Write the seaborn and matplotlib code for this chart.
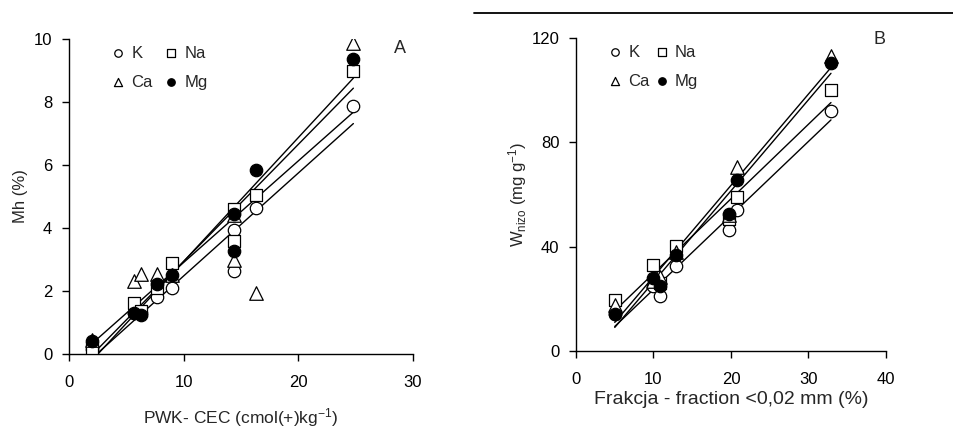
import numpy as np
import pandas as pd
import matplotlib
matplotlib.use('Agg')
import matplotlib.pyplot as plt
import seaborn as sns

sns.set_style('ticks')
plt.rcParams['font.family'] = ['Liberation Sans', 'DejaVu Sans']
plt.rcParams['mathtext.fontset'] = 'custom'
plt.rcParams['mathtext.rm'] = 'Liberation Sans'
plt.rcParams['mathtext.it'] = 'Liberation Sans:italic'

# panel A: CEC vs Mh
cec = [2.0, 5.7, 6.3, 7.7, 9.0, 14.4, 14.4, 16.3, 24.8]
mh_k = [0.15, 1.3, 1.3, 1.8, 2.1, 3.95, 2.65, 4.65, 7.87]
mh_na = [0.2, 1.63, 1.35, 2.1, 2.88, 4.6, 3.58, 5.06, 9.0]
mh_ca = [0.45, 2.32, 2.54, 2.54, 2.5, 4.4, 3.0, 1.95, 9.88]
mh_mg = [0.4, 1.3, 1.25, 2.23, 2.52, 4.43, 3.28, 5.83, 9.38]

# panel B: fraction <0.02 mm vs W_nizo
frac = [5.0, 9.9, 10.8, 12.9, 19.8, 20.8, 32.9]
w_k = [14.0, 24.8, 21.2, 32.4, 46.3, 54.0, 92.0]
w_na = [19.7, 33.0, 26.0, 40.4, 50.5, 59.0, 100.0]
w_ca = [17.8, 27.0, 28.5, 38.0, 52.0, 70.5, 113.0]
w_mg = [14.0, 27.9, 25.1, 36.8, 52.5, 65.7, 110.5]

ions = ['K', 'Na', 'Ca', 'Mg']
markers = {'K': 'o', 'Na': 's', 'Ca': '^', 'Mg': 'o'}
faces = {'K': 'white', 'Na': 'white', 'Ca': 'white', 'Mg': 'black'}

df_a = pd.DataFrame({'x': cec * 4, 'y': mh_k + mh_na + mh_ca + mh_mg,
                     'ion': sum([[i] * len(cec) for i in ions], [])})
df_b = pd.DataFrame({'x': frac * 4, 'y': w_k + w_na + w_ca + w_mg,
                     'ion': sum([[i] * len(frac) for i in ions], [])})

fig = plt.figure(figsize=(9.54, 4.45), dpi=100)
ax_a = fig.add_axes([69 / 954, 91 / 445, 344 / 954, 315 / 445])
ax_b = fig.add_axes([576 / 954, 94 / 445, 310 / 954, 313 / 445])

fs = 12


def draw(ax, df, colsp):
    for ion in ions:
        sub = df[df['ion'] == ion]
        sns.regplot(x='x', y='y', data=sub, ax=ax, scatter=False, ci=None,
                    color='black', line_kws={'lw': 1.0})
    for ion in ions:
        sub = df[df['ion'] == ion]
        sns.scatterplot(x='x', y='y', data=sub, ax=ax, marker=markers[ion],
                        color=faces[ion], edgecolor='black', linewidth=0.9,
                        s=80 if ion != 'Ca' else 95, label=ion, zorder=3)
    h, l = ax.get_legend_handles_labels()
    order = [l.index(n) for n in ['K', 'Ca', 'Na', 'Mg']]
    leg = ax.legend([h[i] for i in order], [l[i] for i in order], ncol=2,
                    frameon=False, markerscale=0.6, handlelength=1.0,
                    handletextpad=0.3, columnspacing=colsp, labelspacing=0.85,
                    fontsize=fs, loc='upper left', borderaxespad=0)
    for spine in ['top', 'right']:
        ax.spines[spine].set_visible(False)
    for spine in ['left', 'bottom']:
        ax.spines[spine].set_linewidth(1.0)
        ax.spines[spine].set_color('black')
    ax.tick_params(direction='out', length=5, width=1.0, labelsize=fs,
                   colors='black')
    ax.tick_params(axis='x', pad=10)
    ax.tick_params(axis='y', pad=7)
    return leg


leg_a = draw(ax_a, df_a, 0.6)
leg_a.set_bbox_to_anchor((0.099, 1.0))
ax_a.set_xlim(0, 30)
ax_a.set_ylim(0, 10)
ax_a.set_xticks([0, 10, 20, 30])
ax_a.set_yticks([0, 2, 4, 6, 8, 10])
ax_a.set_xlabel('PWK- CEC (cmol(+)kg$^{-1}$)', fontsize=12.5, labelpad=12)
ax_a.set_ylabel('Mh (%)', fontsize=fs, labelpad=4)
ax_a.text(0.962, 0.971, 'A', transform=ax_a.transAxes, fontsize=13,
          ha='center', va='center')

leg_b = draw(ax_b, df_b, 0.2)
leg_b.set_bbox_to_anchor((0.078, 1.0))
ax_b.set_xlim(0, 40)
ax_b.set_ylim(0, 120)
ax_b.set_xticks([0, 10, 20, 30, 40])
ax_b.set_yticks([0, 40, 80, 120])
ax_b.set_xlabel('Frakcja - fraction <0,02 mm (%)', fontsize=14, labelpad=3)
ax_b.set_ylabel('W$_{\\mathrm{nizo}}$ (mg g$^{-1}$)', fontsize=fs, labelpad=2)
ax_b.text(0.98, 0.994, 'B', transform=ax_b.transAxes, fontsize=13,
          ha='center', va='center')

# stray rule at the top of the page
fig.add_artist(plt.Line2D([474 / 954, 1.0], [1 - 13 / 445, 1 - 13 / 445],
                          color='black', lw=1.3))

fig.savefig('out.png', dpi=100)
